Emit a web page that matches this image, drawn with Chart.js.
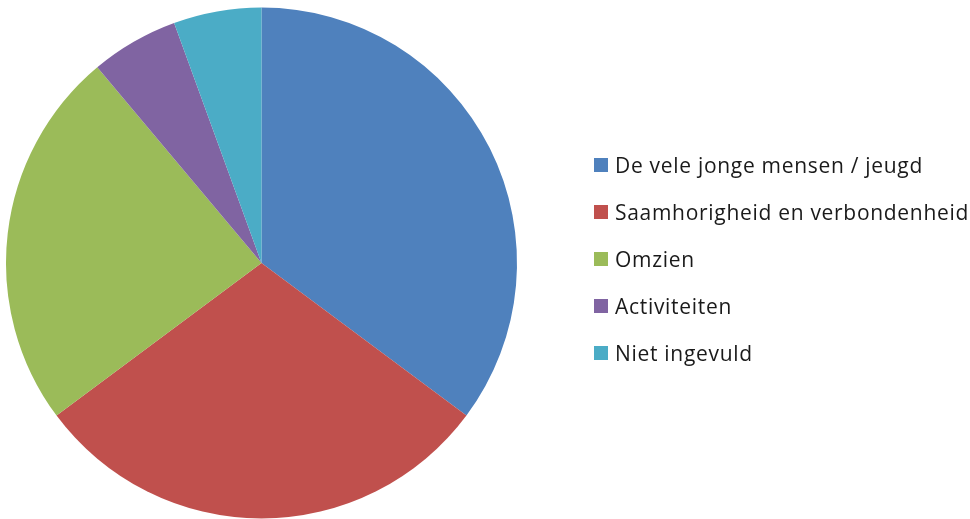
<!DOCTYPE html>
<html>
<head>
<meta charset="utf-8">
<script src="https://cdn.jsdelivr.net/npm/chart.js@4"></script>
<style>
  html, body { margin: 0; padding: 0; background: #fff; }
  #wrap { position: relative; width: 970px; height: 519px; }
  #legend { position: absolute; left: 594px; top: 141px; margin: 0; padding: 0; list-style: none;
    font-family: "Open Sans", "Noto Sans", sans-serif; font-size: 21px; letter-spacing: 0.7px; color: #1a1a1a; }
  #legend li { height: 47px; display: flex; align-items: center; white-space: nowrap; }
  #legend span.box { width: 14px; height: 14px; margin-right: 7px; flex: none; }
</style>
</head>
<body>
<div id="wrap">
  <canvas id="pie" width="970" height="519"></canvas>
  <ul id="legend"></ul>
</div>
<script>
  const labels = ["De vele jonge mensen / jeugd", "Saamhorigheid en verbondenheid", "Omzien", "Activiteiten", "Niet ingevuld"];
  const counts = [19, 16, 13, 3, 3];
  const colors = ["#4F81BD", "#C0504D", "#9BBB59", "#8064A2", "#4BACC6"];

  new Chart(document.getElementById("pie"), {
    type: "pie",
    data: {
      labels,
      datasets: [{ data: counts, backgroundColor: colors, borderWidth: 0 }]
    },
    options: {
      responsive: false,
      animation: false,
      layout: { padding: { left: 6, top: 7, right: 453, bottom: 0 } },
      plugins: { legend: { display: false }, tooltip: { enabled: false } }
    }
  });

  const legend = document.getElementById("legend");
  labels.forEach((label, i) => {
    const li = document.createElement("li");
    const box = document.createElement("span");
    box.className = "box";
    box.style.background = colors[i];
    li.appendChild(box);
    li.appendChild(document.createTextNode(label));
    legend.appendChild(li);
  });
</script>
</body>
</html>
